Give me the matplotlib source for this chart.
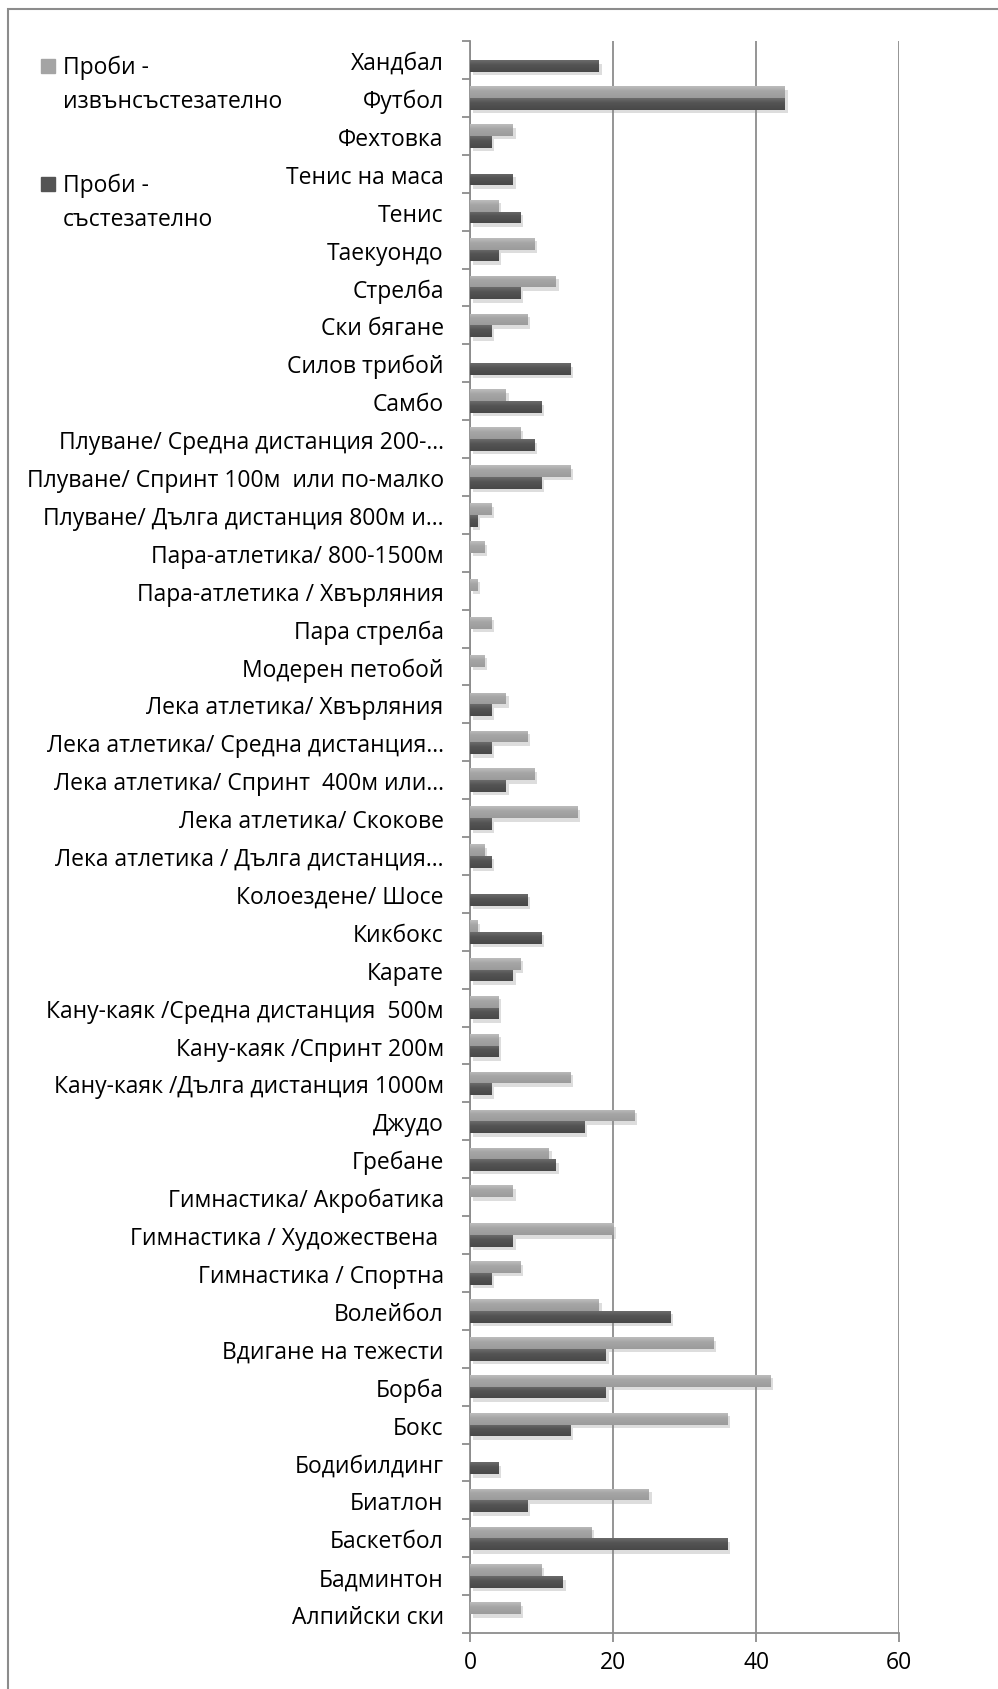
import matplotlib
matplotlib.use('Agg')
import matplotlib.pyplot as plt
import matplotlib.patheffects as pe
from matplotlib.colors import LinearSegmentedColormap
from matplotlib.patches import Rectangle
import numpy as np

categories = [
    'Хандбал', 'Футбол', 'Фехтовка', 'Тенис на маса', 'Тенис', 'Таекуондо',
    'Стрелба', 'Ски бягане', 'Силов трибой', 'Самбо',
    'Плуване/ Средна дистанция 200-…', 'Плуване/ Спринт 100м  или по-малко',
    'Плуване/ Дълга дистанция 800м и…', 'Пара-атлетика/ 800-1500м',
    'Пара-атлетика / Хвърляния', 'Пара стрелба', 'Модерен петобой',
    'Лека атлетика/ Хвърляния', 'Лека атлетика/ Средна дистанция…',
    'Лека атлетика/ Спринт  400м или…', 'Лека атлетика/ Скокове',
    'Лека атлетика / Дълга дистанция…', 'Колоездене/ Шосе', 'Кикбокс', 'Карате',
    'Кану-каяк /Средна дистанция  500м', 'Кану-каяк /Спринт 200м',
    'Кану-каяк /Дълга дистанция 1000м', 'Джудо', 'Гребане',
    'Гимнастика/ Акробатика', 'Гимнастика / Художествена ', 'Гимнастика / Спортна',
    'Волейбол', 'Вдигане на тежести', 'Борба', 'Бокс', 'Бодибилдинг', 'Биатлон',
    'Баскетбол', 'Бадминтон', 'Алпийски ски',
]
# проби извън състезание (светли)
out_comp = [0, 44, 6, 0, 4, 9, 12, 8, 0, 5,
            7, 14, 3, 2, 1, 3, 2, 5, 8, 9,
            15, 2, 0, 1, 7, 4, 4, 14, 23, 11,
            6, 20, 7, 18, 34, 42, 36, 0, 25, 17, 10, 7]
# проби по време на състезание (тъмни)
in_comp = [18, 44, 3, 6, 7, 4, 7, 3, 14, 10,
           9, 10, 1, 0, 0, 0, 0, 3, 3, 5,
           3, 3, 8, 10, 6, 4, 4, 3, 16, 12,
           0, 6, 3, 28, 19, 19, 14, 4, 8, 36, 13, 0]
series_labels = ['Проби -\nизвънсъстезателно', 'Проби -\nсъстезателно']

light = '#a4a4a4'
dark = '#545454'
grid_col = '#8c8c8c'
light_grad = LinearSegmentedColormap.from_list('lg', [(0, '#bdbdbd'), (0.4, '#a6a6a6'), (1, '#9b9b9b')])
dark_grad = LinearSegmentedColormap.from_list('dg', [(0, '#6b6b6b'), (0.4, '#545454'), (1, '#484848')])

plt.rcParams['font.family'] = ['Open Sans', 'DejaVu Sans']
fs = 16.5

fig = plt.figure(figsize=(9.98, 16.9), dpi=100)
ax = fig.add_axes([0.471, 0.0331, 0.430, 0.942])

y = np.arange(len(categories))
h = 0.31
shadow = [pe.SimplePatchShadow(offset=(2, -2.5), shadow_rgbFace='#888888', alpha=0.28), pe.Normal()]
b1 = ax.barh(y - h / 2, out_comp, height=h, color=light, zorder=3)
b2 = ax.barh(y + h / 2, in_comp, height=h, color=dark, zorder=3)

# вертикален градиент върху всяка колона, като в Excel
grad = np.linspace(0, 1, 64).reshape(-1, 1)
for bars, cmap in [(b1, light_grad), (b2, dark_grad)]:
    for b in bars:
        if b.get_width() <= 0:
            continue
        b.set_path_effects(shadow)
        x0, y0, w, hh = b.get_x(), b.get_y(), b.get_width(), b.get_height()
        im = ax.imshow(grad, cmap=cmap, aspect='auto', origin='upper',
                       extent=(x0, x0 + w, y0 + hh, y0), zorder=4)
        im.set_clip_path(b)

ax.set_xlim(0, 60)
ax.set_ylim(len(categories) - 0.5, -0.5)
ax.set_xticks([0, 20, 40, 60])
ax.set_yticks(y)
ax.set_yticklabels(categories)
ax.set_yticks(np.arange(len(categories) + 1) - 0.5, minor=True)
ax.tick_params(axis='y', which='major', length=0, pad=19, labelsize=fs)
ax.tick_params(axis='y', which='minor', length=6, width=1.3, color=grid_col)
ax.tick_params(axis='x', length=6.5, width=1.3, color=grid_col, pad=6, labelsize=fs)
ax.grid(axis='x', color=grid_col, linewidth=1.3, zorder=0)
ax.set_axisbelow(True)
for side in ['top', 'right']:
    ax.spines[side].set_visible(False)
for side in ['left', 'bottom']:
    ax.spines[side].set_color(grid_col)
    ax.spines[side].set_linewidth(1.3)

# легенда: квадратче до първия ред на всеки надпис
leg_colors = [light, dark]
leg_tops = [67, 185]
for lab, col, ypx in zip(series_labels, leg_colors, leg_tops):
    yf = 1 - ypx / 1690
    fig.add_artist(Rectangle((41 / 998, yf - 7 / 1690), 14 / 998, 14 / 1690,
                             transform=fig.transFigure, color=col))
    fig.text(63 / 998, yf + 11 / 1690, lab, fontsize=fs, va='top', ha='left',
             linespacing=1.55)

# внешна рамка на диаграмата
fig.add_artist(Rectangle((8 / 998, -0.1), 1.2, 1.1 - 10 / 1690, transform=fig.transFigure,
                         fill=False, edgecolor=grid_col, linewidth=1.5))

fig.savefig('out.png', dpi=100)
